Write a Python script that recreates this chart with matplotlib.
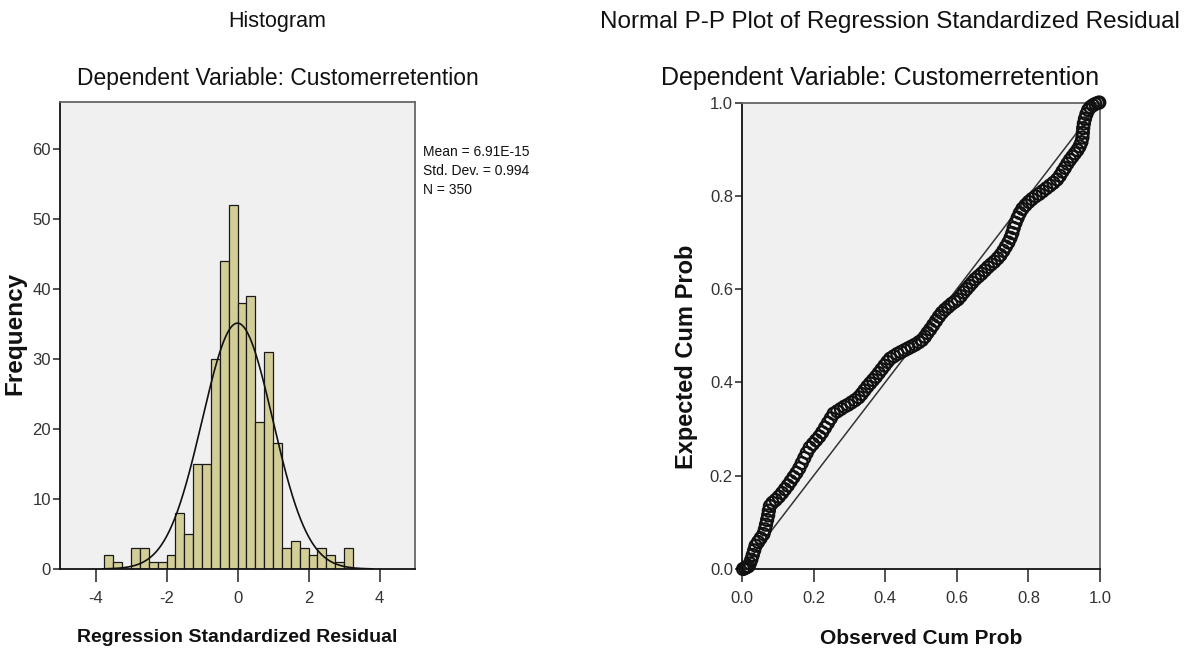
import numpy as np
import matplotlib
matplotlib.use("Agg")
import matplotlib.pyplot as plt
from matplotlib.ticker import FormatStrFormatter

# ---------------- data ----------------
bin_starts = [-3.75, -3.5, -3.25, -3.0, -2.75, -2.5, -2.25, -2.0, -1.75, -1.5,
              -1.25, -1.0, -0.75, -0.5, -0.25, 0.0, 0.25, 0.5, 0.75, 1.0,
              1.25, 1.5, 1.75, 2.0, 2.25, 2.5, 2.75, 3.0]
bin_counts = [2, 1, 0, 3, 3, 1, 1, 2, 8, 5,
              15, 15, 30, 44, 52, 38, 39, 21, 31, 18,
              3, 4, 3, 2, 3, 2, 1, 3]
bin_width = 0.25
resid_mean = 6.91e-15
resid_sd = 0.994
resid_n = 350

hist_xticks = [-4, -2, 0, 2, 4]
hist_yticks = [0, 10, 20, 30, 40, 50, 60]
pp_ticks = [0.0, 0.2, 0.4, 0.6, 0.8, 1.0]

observed_cum = [0.003, 0.008, 0.013, 0.018, 0.022, 0.026, 0.030, 0.034, 0.038, 0.045,
                0.052, 0.060, 0.064, 0.067, 0.070, 0.073, 0.075, 0.078, 0.085, 0.094,
                0.103, 0.112, 0.120, 0.128, 0.136, 0.144, 0.152, 0.160, 0.167, 0.174,
                0.181, 0.189, 0.198, 0.207, 0.216, 0.224, 0.232, 0.240, 0.248, 0.256,
                0.266, 0.276, 0.286, 0.296, 0.306, 0.316, 0.326, 0.334, 0.342, 0.350,
                0.358, 0.366, 0.374, 0.382, 0.390, 0.398, 0.406, 0.414, 0.424, 0.434,
                0.444, 0.454, 0.464, 0.474, 0.484, 0.494, 0.503, 0.511, 0.518, 0.526,
                0.534, 0.542, 0.550, 0.558, 0.567, 0.576, 0.585, 0.594, 0.603, 0.611,
                0.619, 0.627, 0.635, 0.643, 0.651, 0.660, 0.669, 0.678, 0.687, 0.696,
                0.705, 0.714, 0.722, 0.730, 0.737, 0.744, 0.750, 0.755, 0.759, 0.764,
                0.770, 0.776, 0.783, 0.792, 0.801, 0.810, 0.820, 0.830, 0.840, 0.850,
                0.860, 0.870, 0.880, 0.888, 0.895, 0.902, 0.909, 0.916, 0.923, 0.930,
                0.937, 0.943, 0.948, 0.951, 0.952, 0.953, 0.955, 0.958, 0.962, 0.967,
                0.973, 0.980, 0.987, 0.994, 0.998]
expected_cum = [0.000, 0.002, 0.004, 0.006, 0.012, 0.020, 0.030, 0.040, 0.050, 0.058,
                0.066, 0.075, 0.085, 0.095, 0.105, 0.115, 0.125, 0.135, 0.142, 0.148,
                0.155, 0.163, 0.171, 0.179, 0.188, 0.197, 0.206, 0.216, 0.227, 0.238,
                0.249, 0.260, 0.268, 0.276, 0.284, 0.293, 0.303, 0.313, 0.323, 0.333,
                0.338, 0.343, 0.348, 0.352, 0.357, 0.362, 0.368, 0.375, 0.383, 0.391,
                0.398, 0.405, 0.412, 0.420, 0.428, 0.436, 0.444, 0.451, 0.456, 0.461,
                0.465, 0.469, 0.473, 0.477, 0.481, 0.486, 0.491, 0.498, 0.506, 0.514,
                0.523, 0.532, 0.541, 0.549, 0.556, 0.562, 0.568, 0.573, 0.578, 0.585,
                0.593, 0.600, 0.607, 0.614, 0.621, 0.627, 0.633, 0.640, 0.647, 0.653,
                0.659, 0.666, 0.673, 0.682, 0.691, 0.700, 0.710, 0.720, 0.731, 0.742,
                0.753, 0.763, 0.772, 0.780, 0.787, 0.793, 0.799, 0.804, 0.810, 0.816,
                0.822, 0.828, 0.835, 0.843, 0.852, 0.860, 0.869, 0.877, 0.884, 0.891,
                0.898, 0.906, 0.915, 0.925, 0.935, 0.945, 0.955, 0.965, 0.975, 0.984,
                0.990, 0.994, 0.997, 0.999, 1.000]

# ---------------- style ----------------
FONT = ['Liberation Sans', 'DejaVu Sans']
plt.rcParams['font.family'] = FONT
plt.rcParams['axes.unicode_minus'] = False
PANEL_BG = '#f0f0f0'
BAR_COLOR = '#d3ce98'
TICK_COLOR = '#333333'

fig = plt.figure(figsize=(11.88, 6.55), dpi=100)
W, H = 1188, 655


def axes_px(left, top, right, bottom):
    return fig.add_axes([left / W, 1 - bottom / H, (right - left) / W, (bottom - top) / H])


def style_axes(ax):
    ax.set_facecolor(PANEL_BG)
    for s in ('left', 'bottom'):
        ax.spines[s].set_color('#111111')
        ax.spines[s].set_linewidth(1.3)
    for s in ('top', 'right'):
        ax.spines[s].set_color('#666666')
        ax.spines[s].set_linewidth(1.3)
    ax.tick_params(axis='x', direction='out', length=9, width=1.1, pad=6.5,
                   labelsize=12, labelcolor=TICK_COLOR, color='#222222')
    ax.tick_params(axis='y', direction='out', length=5, width=1.1, pad=1.5,
                   labelsize=12, labelcolor=TICK_COLOR, color='#222222')


# ---------------- histogram ----------------
ax1 = axes_px(60, 102, 415, 569)
style_axes(ax1)
ax1.bar(bin_starts, bin_counts, width=bin_width, align='edge', color=BAR_COLOR,
        edgecolor='#1a1a1a', linewidth=0.9, zorder=2)
xs = np.linspace(-3.8, 3.8, 400)
pdf = resid_n * bin_width * np.exp(-0.5 * ((xs - resid_mean) / resid_sd) ** 2) / (resid_sd * np.sqrt(2 * np.pi))
ax1.plot(xs, pdf, color='#111111', linewidth=1.2, zorder=3)
ax1.set_xlim(-5, 5)
ax1.set_ylim(0, 66.7)
ax1.set_xticks(hist_xticks)
ax1.set_yticks(hist_yticks)

fig.text(423 / W, 1 - 152 / H, f"Mean = {resid_mean:.2E}", fontsize=10, va='center', ha='left', color='#111111')
fig.text(423 / W, 1 - 171 / H, f"Std. Dev. = {resid_sd:.3f}", fontsize=10, va='center', ha='left', color='#111111')
fig.text(423 / W, 1 - 190 / H, f"N = {resid_n}", fontsize=10, va='center', ha='left', color='#111111')

fig.text(277 / W, 1 - 22 / H, "Histogram", fontsize=15.5, ha='center', va='center', color='#111111')
fig.text(278 / W, 1 - 78 / H, "Dependent Variable: Customerretention", fontsize=16.5, ha='center', va='center', color='#111111')
fig.text(237 / W, 1 - 638 / H, "Regression Standardized Residual", fontsize=14, fontweight='bold',
         ha='center', va='center', color='#111111')
fig.text(15 / W, 1 - 333 / H, "Frequency", fontsize=17.5, fontweight='bold',
         rotation=90, ha='center', va='center', color='#111111')

# ---------------- P-P plot ----------------
ax2 = axes_px(742, 102.5, 1100, 569)
style_axes(ax2)
ax2.set_xlim(pp_ticks[0], pp_ticks[-1])
ax2.set_ylim(pp_ticks[0], pp_ticks[-1])
ax2.axline((pp_ticks[0], pp_ticks[0]), slope=1, color='#333333', linewidth=1.1, zorder=2)
ax2.scatter(observed_cum, expected_cum, s=75, facecolors='none', edgecolors='#111111',
            linewidths=1.6, zorder=3, clip_on=False)
ax2.set_xticks(pp_ticks)
ax2.set_yticks(pp_ticks)
ax2.xaxis.set_major_formatter(FormatStrFormatter('%.1f'))
ax2.yaxis.set_major_formatter(FormatStrFormatter('%.1f'))

fig.text(890 / W, 1 - 22 / H, "Normal P-P Plot of Regression Standardized Residual", fontsize=17.5,
         ha='center', va='center', color='#111111')
fig.text(880 / W, 1 - 78 / H, "Dependent Variable: Customerretention", fontsize=18,
         ha='center', va='center', color='#111111')
fig.text(921 / W, 1 - 638 / H, "Observed Cum Prob", fontsize=15, fontweight='bold',
         ha='center', va='center', color='#111111')
fig.text(686 / W, 1 - 357 / H, "Expected Cum Prob", fontsize=17, fontweight='bold',
         rotation=90, ha='center', va='center', color='#111111')

fig.savefig("out.png", dpi=100, facecolor='white')
